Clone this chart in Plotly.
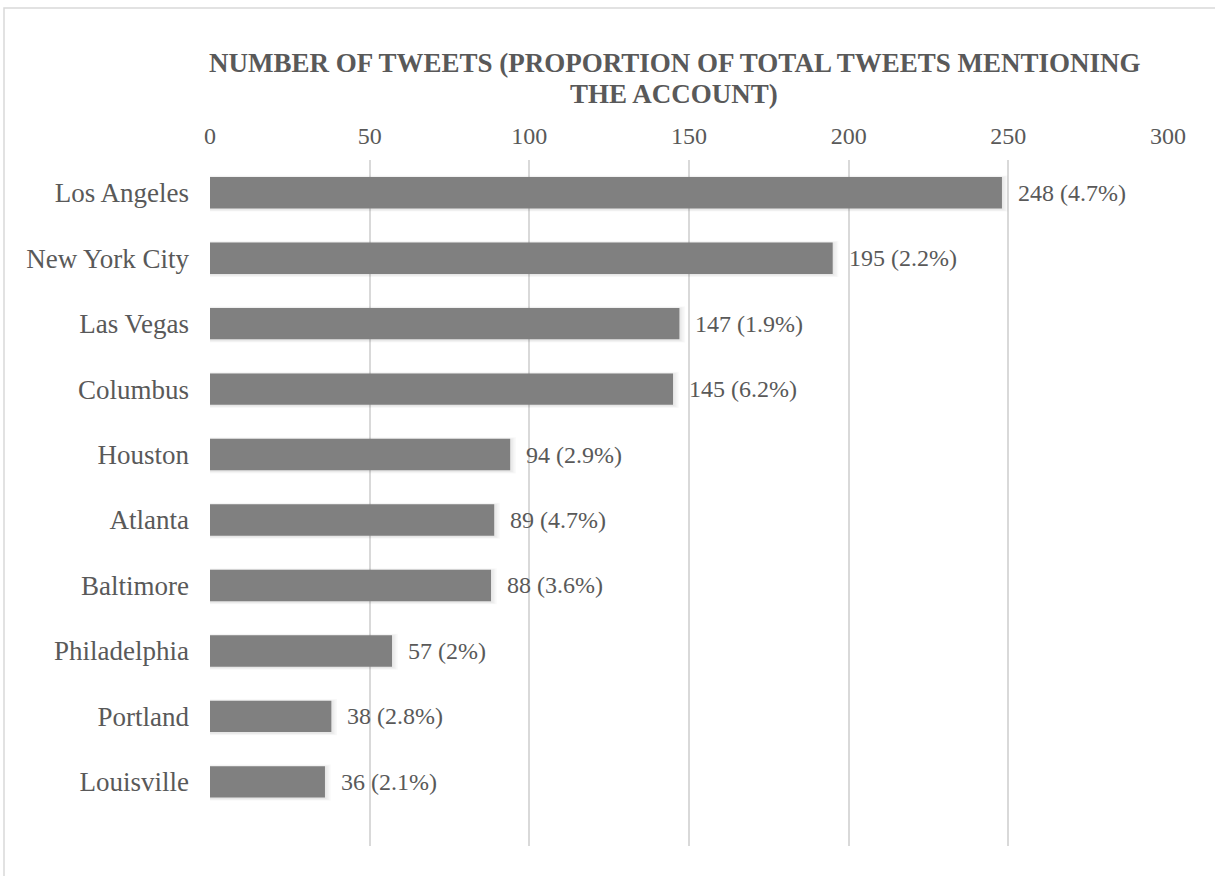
import plotly.graph_objects as go

# Cities ranked by tweet count, top to bottom
cities = ["Los Angeles", "New York City", "Las Vegas", "Columbus", "Houston",
          "Atlanta", "Baltimore", "Philadelphia", "Portland", "Louisville"]
tweets = [248, 195, 147, 145, 94, 89, 88, 57, 38, 36]
shares = ["4.7%", "2.2%", "1.9%", "6.2%", "2.9%", "4.7%", "3.6%", "2%", "2.8%", "2.1%"]
x_ticks = [0, 50, 100, 150, 200, 250, 300]
title_lines = ["NUMBER OF TWEETS (PROPORTION OF TOTAL TWEETS MENTIONING", "THE ACCOUNT)"]

W, H = 1215, 876
ML, MR, MT, MB = 210, 47, 160, 30
PW, PH = W - ML - MR, H - MT - MB

TEXT = "#595959"
GRID = "#d9d9d9"
BAR = "#808080"
FONT = "Liberation Serif, Times New Roman, serif"
BAR_W = 0.48


def px_x(p):
    return (p - ML) / PW


def px_y(p):
    return 1 - (p - MT) / PH


pos = list(range(len(cities)))

fig = go.Figure()

# soft shadow beneath each bar, built from a few faint, slightly larger layers
for k in range(1, 5):
    grow = 0.018 * k
    fig.add_trace(go.Bar(
        y=pos, x=[v + 0.45 * k for v in tweets], orientation="h",
        width=BAR_W + grow, offset=-(BAR_W + grow) / 2 + 0.012,
        marker=dict(color="rgba(0,0,0,0.022)", line=dict(width=0)),
        hoverinfo="skip", showlegend=False,
    ))

fig.add_trace(go.Bar(
    y=pos, x=tweets, orientation="h", width=BAR_W,
    marker=dict(color=BAR, line=dict(width=0)),
    showlegend=False,
))

# value labels: count and share
for p, v, s in zip(pos, tweets, shares):
    fig.add_annotation(
        x=v, y=p, xref="x", yref="y", text=f"{v} ({s})", showarrow=False,
        xanchor="left", yanchor="middle", xshift=14,
        font=dict(family=FONT, size=24, color=TEXT),
    )

# two-line title
for line, ypix in zip(title_lines, [63, 94]):
    fig.add_annotation(
        x=px_x(674), y=px_y(ypix), xref="paper", yref="paper", text=f"<b>{line}</b>",
        showarrow=False, xanchor="center", yanchor="middle",
        font=dict(family=FONT, size=27, color=TEXT),
    )

# chart border
fig.add_shape(
    type="rect", xref="paper", yref="paper",
    x0=px_x(4), x1=px_x(1300), y0=px_y(950), y1=px_y(8),
    line=dict(color=GRID, width=1.5), fillcolor="rgba(0,0,0,0)", layer="below",
)

fig.update_layout(
    width=W, height=H,
    margin=dict(l=ML, r=MR, t=MT, b=MB),
    paper_bgcolor="white", plot_bgcolor="white",
    barmode="overlay",
    font=dict(family=FONT, color=TEXT, size=24),
    xaxis=dict(
        side="top", range=[0, 300], tickvals=x_ticks, ticks="",
        showgrid=True, gridcolor=GRID, gridwidth=1.5,
        zeroline=False, showline=False,
        tickfont=dict(family=FONT, size=24, color=TEXT),
        ticklabelstandoff=10,
    ),
    yaxis=dict(
        range=[9.98, -0.5], tickvals=pos, ticktext=cities, ticks="",
        showgrid=False, zeroline=False, showline=False,
        tickfont=dict(family=FONT, size=27, color=TEXT),
        ticklabelstandoff=20,
    ),
)

fig.write_html("out.html")
